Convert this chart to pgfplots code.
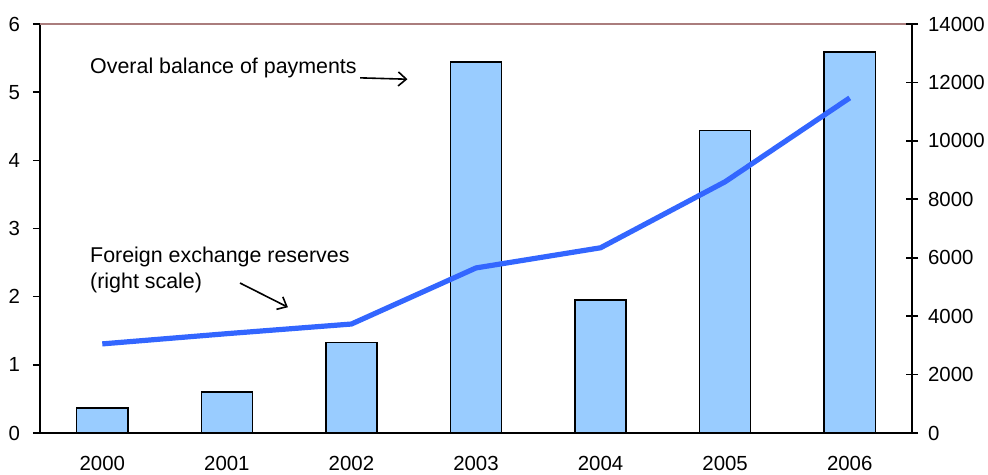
\documentclass[border=0pt]{standalone}
\usepackage{pgfplots}
\pgfplotsset{compat=1.18}
\usetikzlibrary{arrows.meta}
\usepackage{fontspec}
\setmainfont{Liberation Sans}
\definecolor{barfill}{RGB}{153,204,255}
\definecolor{linecol}{RGB}{51,102,255}
\definecolor{topline}{RGB}{170,125,125}
\pgfplotstableread{
x bop
0 0.37
1 0.60
2 1.33
3 5.44
4 1.95
5 4.44
6 5.59
}\bartable
\pgfplotstableread{
x res
0 3050
1 3400
2 3730
3 5650
4 6340
5 8600
6 11470
}\linetable
\begin{document}
\begin{tikzpicture}[font=\fontsize{10.7}{12.8}\selectfont]
\begin{axis}[
  scale only axis, width=436pt, height=204.5pt,
  xmin=-0.5, xmax=6.5, ymin=0, ymax=6,
  axis x line*=bottom, axis y line*=left,
  axis line style={line width=1pt, black, -},
  tick label style={font=\fontsize{10.2}{12}\selectfont},
  xtick={0,...,6},
  xticklabels={2000,2001,2002,2003,2004,2005,2006},
  xtick style={draw=none},
  xticklabel style={yshift=-4.5pt},
  extra x ticks={-0.5,0.5,1.5,2.5,3.5,4.5,5.5,6.5},
  extra x tick labels={},
  extra x tick style={tick align=outside, major tick length=4pt, tick style={draw=black, line width=0.8pt}},
  ytick={0,...,6},
  ytick style={draw=black, line width=0.8pt},
  tick align=outside, major tick length=3.5pt,
  yticklabel style={xshift=-3pt},
  /pgf/number format/assume math mode=true,
  clip=false,
]
\draw[topline, line width=0.8pt] (axis cs:-0.5,6) -- (axis cs:6.5,6);
\addplot[ybar, bar width=0.41, fill=barfill, draw=black, line width=0.75pt] table[x=x, y=bop] {\bartable};
\node[anchor=west, inner sep=0pt] at (axis cs:-0.1,5.354) {Overal balance of payments};
\draw[-{Straight Barb[length=4pt,width=7pt]}, line width=0.8pt] (axis cs:2.07,5.21) -- (axis cs:2.45,5.19);
\node[anchor=west, align=left, inner sep=0pt] at (axis cs:-0.1,2.39) {Foreign exchange reserves\\(right scale)};
\draw[-{Straight Barb[length=4pt,width=7pt]}, line width=0.8pt] (axis cs:1.106,2.20) -- (axis cs:1.49,1.845);
\end{axis}
\begin{axis}[
  scale only axis, width=436pt, height=204.5pt,
  xmin=-0.5, xmax=6.5, ymin=0, ymax=14000,
  axis x line=none, axis y line*=right,
  axis line style={line width=1pt, black, -},
  tick label style={font=\fontsize{10.2}{12}\selectfont},
  ytick={0,2000,...,14000},
  scaled y ticks=false,
  yticklabel style={/pgf/number format/1000 sep={}, xshift=1.5pt},
  ytick style={draw=black, line width=0.8pt},
  tick align=center, major tick length=6pt,
  /pgf/number format/assume math mode=true,
]
\addplot[linecol, line width=2.6pt, line join=round] table[x=x, y=res] {\linetable};
\end{axis}
\pgfresetboundingbox
\useasboundingbox ([shift={(-20pt,-21pt)}]current axis.south west) rectangle ([shift={(38pt,12pt)}]current axis.north east);
\end{tikzpicture}
\end{document}
